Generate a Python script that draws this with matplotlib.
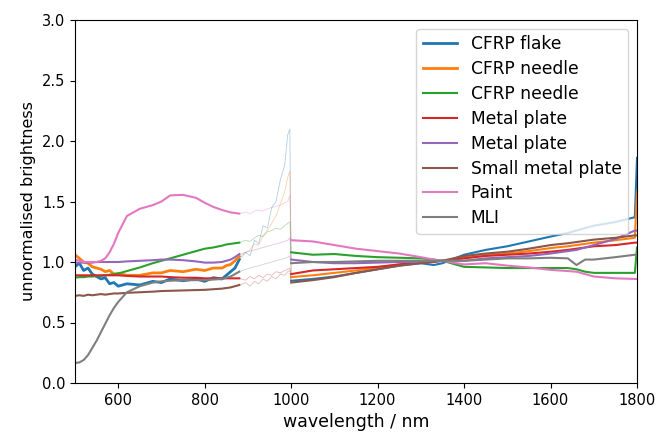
import matplotlib
matplotlib.use("Agg")
import matplotlib.pyplot as plt

plt.rcParams['font.size'] = 10.5

# wavelength grids for the three detector ranges (nm)
wl_vis = [500, 510, 520, 530, 540, 550, 560, 570, 580, 590, 600, 620, 650, 680, 700, 720, 750, 780,
          800, 820, 840, 850, 860, 870, 880]
wl_gap = [880, 895, 905, 915, 925, 935, 945, 955, 965, 975, 985, 992, 997, 1000]
wl_nir = [1000, 1050, 1100, 1150, 1200, 1250, 1300, 1330, 1350, 1400, 1450, 1500, 1550, 1600,
          1640, 1660, 1680, 1700, 1750, 1795, 1800]

labels = ["CFRP flake", "CFRP needle", "CFRP needle", "Metal plate", "Metal plate",
          "Small metal plate", "Paint", "MLI"]

# unnormalised brightness, visible range
vis = [
    [0.96, 0.99, 0.93, 0.95, 0.90, 0.88, 0.86, 0.87, 0.82, 0.83, 0.80, 0.82, 0.81, 0.84, 0.83, 0.86, 0.845,
     0.86, 0.84, 0.87, 0.86, 0.89, 0.92, 0.95, 1.02],
    [1.06, 1.03, 1.00, 0.99, 0.96, 0.95, 0.94, 0.92, 0.93, 0.90, 0.905, 0.89, 0.89, 0.91, 0.91, 0.93,
     0.92, 0.94, 0.93, 0.95, 0.95, 0.97, 0.98, 1.01, 1.045],
    [0.87, 0.875, 0.875, 0.88, 0.88, 0.885, 0.885, 0.89, 0.895, 0.90, 0.905, 0.925, 0.955, 0.99, 1.01,
     1.03, 1.06, 1.09, 1.11, 1.12, 1.135, 1.145, 1.15, 1.155, 1.16],
    [0.89, 0.89, 0.89, 0.89, 0.89, 0.89, 0.89, 0.89, 0.89, 0.89, 0.89, 0.885, 0.88, 0.88, 0.88, 0.875,
     0.87, 0.87, 0.865, 0.865, 0.865, 0.865, 0.865, 0.865, 0.865],
    [0.995, 0.995, 0.995, 0.995, 0.995, 1.0, 1.0, 1.0, 1.0, 1.0, 1.0, 1.005, 1.01, 1.015, 1.02, 1.02,
     1.015, 1.005, 0.995, 0.995, 1.0, 1.01, 1.02, 1.04, 1.065],
    [0.72, 0.725, 0.72, 0.73, 0.725, 0.73, 0.735, 0.73, 0.735, 0.74, 0.74, 0.745, 0.75, 0.755, 0.76,
     0.762, 0.765, 0.768, 0.77, 0.775, 0.78, 0.785, 0.79, 0.80, 0.81],
    [1.02, 1.01, 1.0, 1.0, 1.0, 1.0, 1.01, 1.03, 1.08, 1.15, 1.24, 1.38, 1.44, 1.47, 1.50, 1.55, 1.555,
     1.53, 1.49, 1.455, 1.43, 1.42, 1.41, 1.405, 1.40],
    [0.165, 0.17, 0.19, 0.23, 0.29, 0.35, 0.42, 0.49, 0.56, 0.62, 0.67, 0.75, 0.80, 0.83, 0.84, 0.845,
     0.85, 0.85, 0.85, 0.855, 0.86, 0.87, 0.88, 0.90, 0.92],
]

# low-signal overlap between the two detectors
gap = [
    [1.02, 1.08, 1.05, 1.18, 1.15, 1.30, 1.28, 1.45, 1.50, 1.68, 1.80, 2.05, 2.10, 0.845],
    [1.045, 1.08, 1.10, 1.15, 1.14, 1.22, 1.26, 1.32, 1.38, 1.48, 1.58, 1.70, 1.75, 0.875],
    [1.16, 1.18, 1.17, 1.20, 1.22, 1.21, 1.25, 1.26, 1.28, 1.27, 1.30, 1.32, 1.33, 1.08],
    [0.865, 0.85, 0.88, 0.86, 0.89, 0.87, 0.90, 0.89, 0.92, 0.91, 0.93, 0.94, 0.95, 0.90],
    [1.065, 1.08, 1.09, 1.10, 1.11, 1.12, 1.13, 1.14, 1.15, 1.16, 1.17, 1.18, 1.20, 1.02],
    [0.81, 0.83, 0.80, 0.84, 0.82, 0.86, 0.84, 0.88, 0.86, 0.90, 0.89, 0.92, 0.93, 0.83],
    [1.40, 1.41, 1.40, 1.42, 1.43, 1.42, 1.44, 1.45, 1.46, 1.47, 1.49, 1.50, 1.55, 1.18],
    [0.92, 0.94, 0.95, 0.96, 0.97, 0.98, 0.99, 1.00, 1.01, 1.02, 1.03, 1.04, 1.05, 0.99],
]

# unnormalised brightness, near-infrared range
nir = [
    [0.845, 0.86, 0.88, 0.91, 0.94, 0.97, 0.99, 0.975, 0.99, 1.06, 1.10, 1.13, 1.17, 1.21, 1.24, 1.26, 1.28, 1.30, 1.33, 1.37, 1.86],
    [0.875, 0.89, 0.91, 0.93, 0.955, 0.98, 1.0, 1.005, 1.01, 1.04, 1.06, 1.07, 1.09, 1.115, 1.13, 1.14, 1.15, 1.16, 1.18, 1.20, 1.58],
    [1.08, 1.06, 1.066, 1.05, 1.04, 1.035, 1.03, 1.02, 1.01, 0.96, 0.955, 0.95, 0.95, 0.95, 0.95, 0.94, 0.92, 0.91, 0.91, 0.91, 1.12],
    [0.90, 0.93, 0.94, 0.95, 0.96, 0.98, 1.0, 1.005, 1.01, 1.03, 1.05, 1.06, 1.07, 1.085, 1.10, 1.11, 1.12, 1.13, 1.14, 1.16, 1.16],
    [1.02, 1.0, 0.99, 0.99, 0.995, 1.0, 1.0, 1.005, 1.01, 1.01, 1.03, 1.04, 1.05, 1.07, 1.09, 1.10, 1.12, 1.14, 1.19, 1.26, 1.26],
    [0.83, 0.85, 0.875, 0.91, 0.94, 0.97, 0.99, 1.0, 1.01, 1.05, 1.07, 1.085, 1.11, 1.14, 1.155, 1.165, 1.175, 1.185, 1.20, 1.22, 1.22],
    [1.18, 1.17, 1.14, 1.11, 1.09, 1.07, 1.04, 1.02, 1.01, 0.98, 0.99, 0.97, 0.955, 0.935, 0.925, 0.92, 0.90, 0.88, 0.865, 0.86, 0.86],
    [0.99, 1.0, 1.0, 1.005, 1.01, 1.01, 1.01, 1.01, 1.01, 1.01, 1.02, 1.03, 1.03, 1.035, 1.03, 0.975, 1.02, 1.02, 1.04, 1.06, 1.06],
]

colors = plt.rcParams['axes.prop_cycle'].by_key()['color']

fig = plt.figure(figsize=(6.56, 4.32), dpi=100)
ax = fig.add_axes([75 / 656, 49 / 432, 562 / 656, 363 / 432])

for i, name in enumerate(labels):
    c = colors[i]
    lw = 2.0 if i < 2 else 1.5
    ax.plot(wl_vis, vis[i], color=c, lw=lw, label=name)
    ax.plot(wl_gap, gap[i], color=c, lw=0.6, alpha=0.35)
    ax.plot(wl_nir, nir[i], color=c, lw=1.5)

ax.set_xlim(500, 1800)
ax.set_ylim(0, 3.0)
ax.set_xlabel("wavelength / nm", fontsize=12.5)
ax.set_ylabel("unnormalised brightness", fontsize=11.5)
ax.legend(loc="upper right", fontsize=12.3, labelspacing=0.4)

fig.savefig("out.png", dpi=100)
